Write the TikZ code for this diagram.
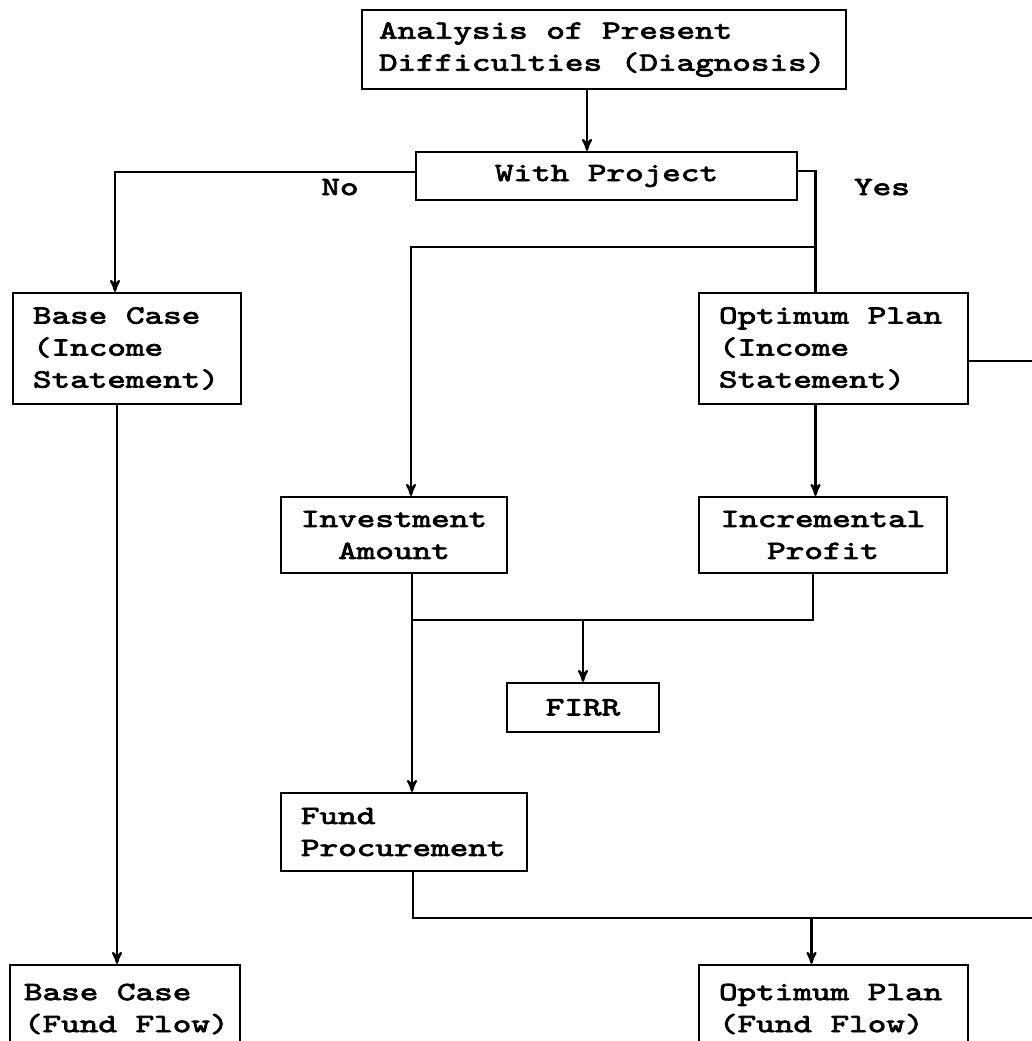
\documentclass[tikz,border=0pt]{standalone}
\usepackage{fontspec}
\newfontfamily\typewriter{lmmono10-regular.otf}[FakeStretch=1.352, FakeBold=3]
\newcommand{\typer}{\typewriter\fontsize{13.1}{16}\selectfont}
% one typewriter cell between words
\newcommand{\ws}{\hspace*{9.3pt}}
\usepackage{tikz}
\usetikzlibrary{calc}
\usetikzlibrary{arrows}
\tikzset{box/.style={draw, inner xsep=10pt, inner ysep=2pt, align=left, font=\typer}}
\tikzset{lbl/.style={font=\typer, inner sep=0pt, anchor=base}}

\begin{document}
\begin{tikzpicture}[x=0.5pt, y=-0.5pt, line width=1.1pt, >=stealth']
\useasboundingbox (0,0) rectangle (1032,1041);
\clip (0,0) rectangle (1032,1041);

\node[box, text width=225pt, inner xsep=8.5pt, minimum height=39.5pt] (diag) at (604,49.5) {Analysis\ws of\ws Present\\Difficulties\ws (Diagnosis)};
\node[box, align=center, text width=170.5pt, minimum height=24pt] (withp) at (606.5,176) {With\ws Project};
\node[box, text width=94pt, minimum height=55.5pt] (basei) at (127,348.5) {Base\ws Case\\(Income\\Statement)};
\node[box, text width=114.5pt, minimum height=55.5pt] (opti) at (833.5,348.5) {Optimum\ws Plan\\(Income\\Statement)};
\node[box, align=center, text width=95pt, inner xsep=9pt, minimum height=38pt] (invest) at (394,535) {Investment\\Amount};
\node[box, align=center, text width=104pt, minimum height=38pt] (incr) at (823,535) {Incremental\\Profit};
\node[box, align=center, text width=56pt, minimum height=24.5pt] (firr) at (583,707.5) {FIRR};
\node[box, text width=103pt, minimum height=39pt] (fundp) at (404,832) {Fund\\Procurement};
\node[box, text width=101pt, inner xsep=7pt, minimum height=44pt] (basef) at (125,1009) {Base\ws Case\\(Fund\ws Flow)};
\node[box, text width=114.5pt, minimum height=44pt] (optf) at (833.5,1009) {Optimum\ws Plan\\(Fund\ws Flow)};

\node[lbl] (no) at (340,195) {No};
\node[lbl] (yes) at (882,195) {Yes};

% junctions and the two lines leaving on the right
\coordinate (split) at (815.5,247);
\coordinate (merge) at (412,620);
\coordinate (edgehigh) at (1032,361);
\coordinate (edgelow) at (1032,918);

\draw[->] ([xshift=-8.5pt]diag.south) -- ([xshift=-8.5pt]diag.south |- withp.north);
\draw[->] ([yshift=2pt]withp.west) -| ([xshift=-6pt]basei.north);
\draw ([yshift=2.5pt]withp.east) -| ([xshift=-9pt]opti.north);
\draw[->] (split) -| ([xshift=8.5pt]invest.north);
\draw[->] ([xshift=-5pt]basei.south) -- ([xshift=-5pt]basei.south |- basef.north);
\draw[->] ([xshift=-9pt]opti.south) -- ([xshift=-9pt]opti.south |- incr.north);
\draw ([yshift=-6.25pt]opti.east) -- (edgehigh);
\draw ([xshift=-5pt]incr.south) |- (merge);
\draw[->] ([xshift=9pt]invest.south) -- ([xshift=9pt]invest.south |- fundp.north);
\draw[->] (merge -| firr.north) -- (firr.north);
\draw ([xshift=4.5pt]fundp.south) |- (edgelow);
\draw[->] ([xshift=-11pt]optf.north |- edgelow) -- ([xshift=-11pt]optf.north);
\end{tikzpicture}
\end{document}
